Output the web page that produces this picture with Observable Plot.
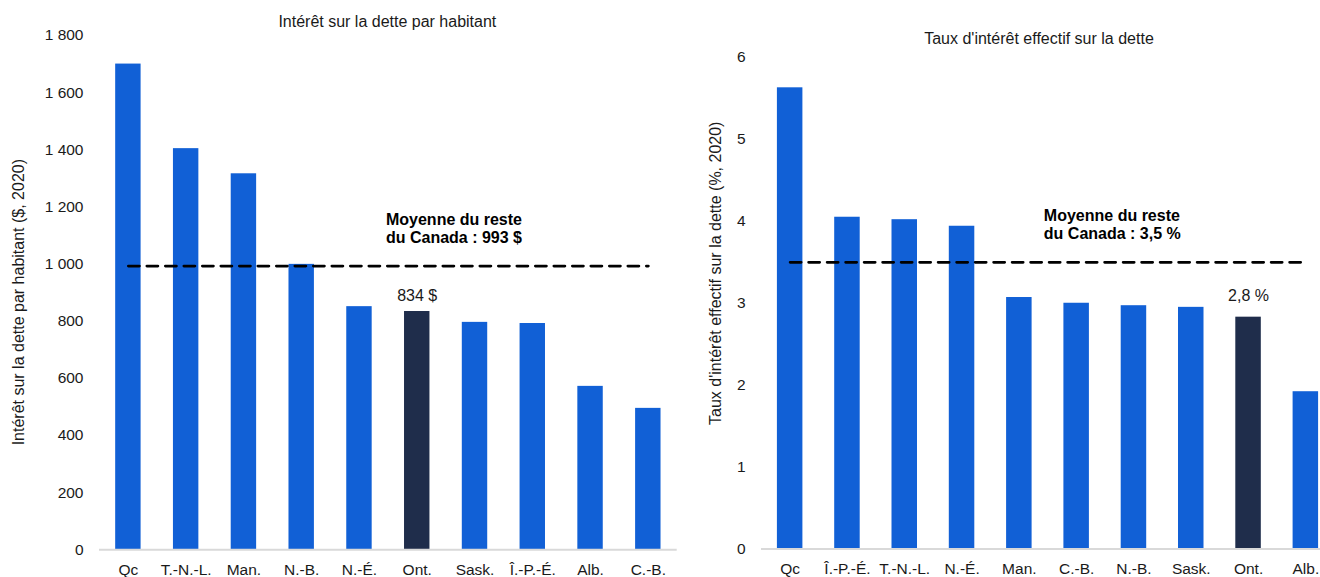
<!DOCTYPE html>
<html lang="fr">
<head>
<meta charset="utf-8">
<script src="https://cdn.jsdelivr.net/npm/d3@7"></script>
<script src="https://cdn.jsdelivr.net/npm/@observablehq/plot@0.6"></script>
<style>
  html, body { margin: 0; padding: 0; background: #fff; overflow: hidden; }
  #charts { position: relative; width: 1320px; height: 577px; overflow: hidden; }
  #charts > div { position: absolute; top: 0; }
  #charts svg { max-width: none !important; display: block; }
  #left { left: 0; width: 680px; }
  #right { left: 680px; width: 654px; }
</style>
</head>
<body>
<div id="charts"><div id="left"></div><div id="right"></div></div>
<script>
// Intérêt sur la dette par habitant ($, 2020)
const provincesInteret = ["Qc", "T.-N.-L.", "Man.", "N.-B.", "N.-É.", "Ont.", "Sask.", "Î.-P.-É.", "Alb.", "C.-B."];
const interetParHabitant = [1700, 1404, 1316, 999, 851, 834, 796, 792, 572, 495];
const moyenneInteret = 993;
const yTicksInteret = [0, 200, 400, 600, 800, 1000, 1200, 1400, 1600, 1800];

// Taux d'intérêt effectif sur la dette (%, 2020)
const provincesTaux = ["Qc", "Î.-P.-É.", "T.-N.-L.", "N.-É.", "Man.", "C.-B.", "N.-B.", "Sask.", "Ont.", "Alb."];
const tauxEffectif = [5.63, 4.05, 4.02, 3.94, 3.07, 3.00, 2.97, 2.95, 2.83, 1.92];
const moyenneTaux = 3.5;
const yTicksTaux = [0, 1, 2, 3, 4, 5, 6];

const highlighted = "Ont.";
const BLUE = "#1160d6";
const NAVY = "#1f2d4b";
const INK = "#1a1a1a";
const FONT = "'Liberation Sans', Arial, sans-serif";

const fr = d3.formatLocale({decimal: ",", thousands: "\u00a0", grouping: [3], currency: ["", "\u00a0$"]});
const fmtInt = fr.format(",d");
const fmtDec1 = fr.format(".1f");

function barChart({provinces, values, mean, ticks, tickFormat, valueLabel, meanLabel, title, yLabel,
                   width, marginLeft, marginRight, marginTop, marginBottom, padding,
                   titleDx, titleDy, yLabelDx, yLabelDy, labelDy, noteDx, noteDy}) {
  const data = provinces.map((p, i) => ({prov: p, value: values[i]}));
  const ont = data.filter(d => d.prov === highlighted);
  const meanLine = [
    {prov: provinces[0], value: mean},
    {prov: provinces[provinces.length - 1], value: mean}
  ];
  return Plot.plot({
    width,
    height: 577,
    marginLeft, marginRight, marginTop, marginBottom,
    style: {fontFamily: FONT, fontSize: "15.5px", color: INK, background: "#fff"},
    x: {domain: provinces, paddingInner: padding, paddingOuter: padding / 2, round: false},
    y: {domain: [ticks[0], ticks[ticks.length - 1]]},
    color: {type: "identity"},
    marks: [
      Plot.axisY({ticks, tickFormat, tickSize: 0, tickPadding: 16, label: null, fill: INK}),
      Plot.axisX({tickSize: 0, tickPadding: 14, label: null, fill: INK}),
      Plot.barY(data, {x: "prov", y: "value", fill: d => d.prov === highlighted ? NAVY : BLUE}),
      Plot.ruleY([0], {stroke: "#d9d9d9", strokeWidth: 2}),
      Plot.lineY(meanLine, {x: "prov", y: "value", stroke: "#000", strokeWidth: 2.8, strokeDasharray: "11,7.5"}),
      Plot.text(ont, {x: "prov", y: "value", text: d => valueLabel(d.value), dy: labelDy, fontSize: 16, fill: INK}),
      Plot.text([meanLabel(mean)], {
        x: () => provinces[4], y: () => mean, text: d => d,
        textAnchor: "start", lineAnchor: "bottom", lineHeight: 1.12,
        dx: noteDx, dy: noteDy, fontSize: 16, fontWeight: "bold", fill: "#000"
      }),
      Plot.text([title], {
        frameAnchor: "top", text: d => d, textAnchor: "middle", lineAnchor: "middle",
        dx: titleDx, dy: titleDy, fontSize: 16, fill: INK
      }),
      Plot.text([yLabel], {
        frameAnchor: "left", text: d => d, rotate: -90, textAnchor: "middle", lineAnchor: "middle",
        dx: yLabelDx, dy: yLabelDy, fontSize: 16, fill: INK
      })
    ]
  });
}

document.getElementById("left").append(barChart({
  provinces: provincesInteret,
  values: interetParHabitant,
  mean: moyenneInteret,
  ticks: yTicksInteret,
  tickFormat: fmtInt,
  valueLabel: v => fmtInt(v) + "\u00a0$",
  meanLabel: m => "Moyenne du reste\ndu Canada : " + fmtInt(m) + "\u00a0$",
  title: "Intérêt sur la dette par habitant",
  yLabel: "Intérêt sur la dette par habitant ($, 2020)",
  width: 680, marginLeft: 99, marginRight: 3.3, marginTop: 35, marginBottom: 27.7,
  padding: 0.56,
  titleDx: -1, titleDy: -14, yLabelDx: -81, yLabelDy: 9.5, labelDy: -15.5,
  noteDx: 26.5, noteDy: -23.5
}));

document.getElementById("right").append(barChart({
  provinces: provincesTaux,
  values: tauxEffectif,
  mean: moyenneTaux,
  ticks: yTicksTaux,
  tickFormat: d3.format("d"),
  valueLabel: v => fmtDec1(v) + "\u00a0%",
  meanLabel: m => "Moyenne du reste\ndu Canada : " + fmtDec1(m) + "\u00a0%",
  title: "Taux d'intérêt effectif sur la dette",
  yLabel: "Taux d'intérêt effectif sur la dette (%, 2020)",
  width: 654, marginLeft: 81, marginRight: 0, marginTop: 57, marginBottom: 28.5,
  padding: 0.555,
  titleDx: -9, titleDy: -18.7, yLabelDx: -46, yLabelDy: -30, labelDy: -21,
  noteDx: 24.5, noteDy: -23
}));
</script>
</body>
</html>
